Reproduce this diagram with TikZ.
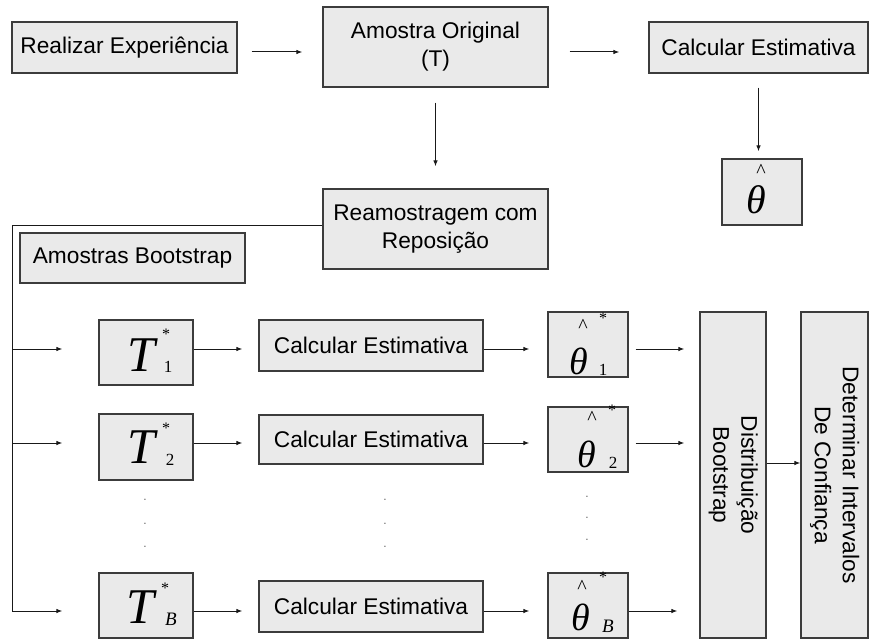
\documentclass[tikz,border=0pt]{standalone}
\usepackage{fontspec}
\setmainfont{Liberation Sans}
\newfontfamily\tnr{Liberation Serif}
\usetikzlibrary{arrows.meta,calc}
\definecolor{boxfill}{RGB}{234,234,234}
\definecolor{boxline}{RGB}{60,60,60}
\begin{document}
\begin{tikzpicture}[x=1pt,y=-1pt,
  box/.style={draw=boxline, fill=boxfill, line width=1.2pt, inner sep=0pt, align=center,
    font=\fontsize{22.7}{28}\selectfont},
  arr/.style={draw=black!90, line width=1pt, -{Latex[length=6pt,width=4.5pt]}},
  ln/.style={draw=black!90, line width=1pt},
  glT/.style={inner sep=0pt, anchor=base, font=\tnr\itshape\fontsize{50}{50}\selectfont},
  glth/.style={inner sep=0pt, anchor=base, font=\tnr\itshape\fontsize{38}{38}\selectfont},
  glthbig/.style={inner sep=0pt, anchor=base, font=\tnr\itshape\fontsize{40}{40}\selectfont},
  ast/.style={inner sep=0pt, anchor=north, font=\tnr\fontsize{16}{16}\selectfont},
  hatg/.style={inner sep=0pt, anchor=north, font=\tnr\fontsize{20}{20}\selectfont},
  subn/.style={inner sep=0pt, anchor=base, font=\tnr\fontsize{17}{17}\selectfont},
  subB/.style={inner sep=0pt, anchor=base, font=\tnr\itshape\fontsize{19}{19}\selectfont},
  dotg/.style={inner sep=0pt, text=black!60, font=\fontsize{12}{12}\selectfont}
]
\useasboundingbox (0,0) rectangle (869,639);

% row coordinates
\coordinate (ytop) at (0,52);
\coordinate (r1) at (0,349);
\coordinate (r2) at (0,443);
\coordinate (rB) at (0,611);
\coordinate (rd) at (0,463);
\coordinate (trunk) at (12,611);

% top part
\node[box, minimum width=225, minimum height=51] (real) at (124.5,47.5) {Realizar Experiência};
\node[box, minimum width=225, minimum height=80] (amo) at (435.5,47) {Amostra Original\\(T)};
\node[box, minimum width=219, minimum height=51] (calc) at (758.5,47.5) {Calcular Estimativa};
\node[box, minimum width=80, minimum height=66] (th) at (762,192) {};
\node[box, minimum width=225, minimum height=80] (ream) at (435.5,229) {Reamostragem com\\Reposição};
\node[box, minimum width=225, minimum height=50] (amb) at (132.5,258) {Amostras Bootstrap};

\node[glthbig] (thg) at ($(th)+(-6,21)$) {θ};
\node[hatg] (thh) at ($(th)+(-1,-28)$) {\textasciicircum};

% bootstrap rows
\node[box, minimum width=94, minimum height=65] (t1) at (146,352.5) {};
\node[box, minimum width=94, minimum height=66] (t2) at (146,447) {};
\node[box, minimum width=94, minimum height=65] (tB) at (146,605.5) {};

\node[box, minimum width=224, minimum height=51] (c1) at (371,345.5) {Calcular Estimativa};
\node[box, minimum width=224, minimum height=49] (c2) at (371,439.5) {Calcular Estimativa};
\node[box, minimum width=224, minimum height=51] (cB) at (371,606.5) {Calcular Estimativa};

\node[box, minimum width=80, minimum height=65] (h1) at (588,344.5) {};
\node[box, minimum width=80, minimum height=65] (h2) at (588,439.5) {};
\node[box, minimum width=80, minimum height=65] (hB) at (588,605.5) {};

\node[box, minimum width=66, minimum height=326] (dist) at (733,475)
  {\rotatebox{-90}{\begin{tabular}{@{}c@{}}Distribuição\\Bootstrap\end{tabular}}};
\node[box, minimum width=67, minimum height=326] (det) at (834.5,475)
  {\rotatebox{-90}{\begin{tabular}{@{}c@{}}Determinar Intervalos\\De Confiança\end{tabular}}};

% T glyphs
\node[glT] (t1g) at ($(t1)+(-5,18.5)$) {T};
\node[ast] (t1a) at ($(t1)+(20,-24)$) {*};
\node[subn] (t1s) at ($(t1)+(22,19.5)$) {1};
\node[glT] (t2g) at ($(t2)+(-5,16)$) {T};
\node[ast] (t2a) at ($(t2)+(20,-24.5)$) {*};
\node[subn] (t2s) at ($(t2)+(24,18)$) {2};
\node[glT] (tBg) at ($(tB)+(-6,17.5)$) {T};
\node[ast] (tBa) at ($(tB)+(19,-23)$) {*};
\node[subB] (tBs) at ($(tB)+(25,19.5)$) {B};

% theta glyphs
\node[glth] (h1g) at ($(h1)+(-9,29.5)$) {θ};
\node[hatg] (h1h) at ($(h1)+(-5,-25.5)$) {\textasciicircum};
\node[ast] (h1a) at ($(h1)+(15,-32)$) {*};
\node[subn] (h1s) at ($(h1)+(15,30.5)$) {1};
\node[glth] (h2g) at ($(h2)+(-1.5,27.5)$) {θ};
\node[hatg] (h2h) at ($(h2)+(4,-28.5)$) {\textasciicircum};
\node[ast] (h2a) at ($(h2)+(24,-35)$) {*};
\node[subn] (h2s) at ($(h2)+(25,28.5)$) {2};
\node[glth] (hBg) at ($(hB)+(-7,24.5)$) {θ};
\node[hatg] (hBh) at ($(hB)+(-6,-25.5)$) {\textasciicircum};
\node[ast] (hBa) at ($(hB)+(15,-34)$) {*};
\node[subB] (hBs) at ($(hB)+(20,26.5)$) {B};

% vertical dots
\foreach \yy [count=\i] in {500,524,547} {
  \node[dotg] (da\i) at (145,\yy) {.};
  \node[dotg] (db\i) at (385,\yy) {.};
}
\foreach \yy [count=\i] in {497,518,540} {
  \node[dotg] (dc\i) at (587,\yy) {.};
}

% connectors top
\draw[arr, shorten <=14pt, shorten >=20pt] (real.east |- ytop) -- (amo.west |- ytop);
\draw[arr, shorten <=21pt, shorten >=29pt] (amo.east |- ytop) -- (calc.west |- ytop);
\draw[arr, shorten <=15pt, shorten >=22pt] (amo.south) -- (ream.north);
\draw[arr, shorten <=14pt, shorten >=7pt] (calc.south) -- (calc.south |- th.north);

% trunk
\draw[ln] ([yshift=4pt]ream.west) -| (trunk);
\draw[arr, shorten >=36pt] (trunk |- r1) -- (t1.west |- r1);
\draw[arr, shorten >=36pt] (trunk |- r2) -- (t2.west |- r2);
\draw[arr, shorten >=36pt] (trunk) -- (tB.west |- rB);

% rows
\draw[arr, shorten >=16pt] (t1.east |- r1) -- (c1.west |- r1);
\draw[arr, shorten >=16pt] (t2.east |- r2) -- (c2.west |- r2);
\draw[arr, shorten >=16pt] (tB.east |- rB) -- (cB.west |- rB);
\draw[arr, shorten >=18pt] (c1.east |- r1) -- (h1.west |- r1);
\draw[arr, shorten >=18pt] (c2.east |- r2) -- (h2.west |- r2);
\draw[arr, shorten >=18pt] (cB.east |- rB) -- (hB.west |- rB);
\draw[arr, shorten <=7pt, shorten >=15pt] (h1.east |- r1) -- (dist.west |- r1);
\draw[arr, shorten <=7pt, shorten >=15pt] (h2.east |- r2) -- (dist.west |- r2);
\draw[arr, shorten >=22pt] (hB.east |- rB) -- (dist.west |- rB);
\draw[arr] (dist.east |- rd) -- (det.west |- rd);
\end{tikzpicture}
\end{document}
